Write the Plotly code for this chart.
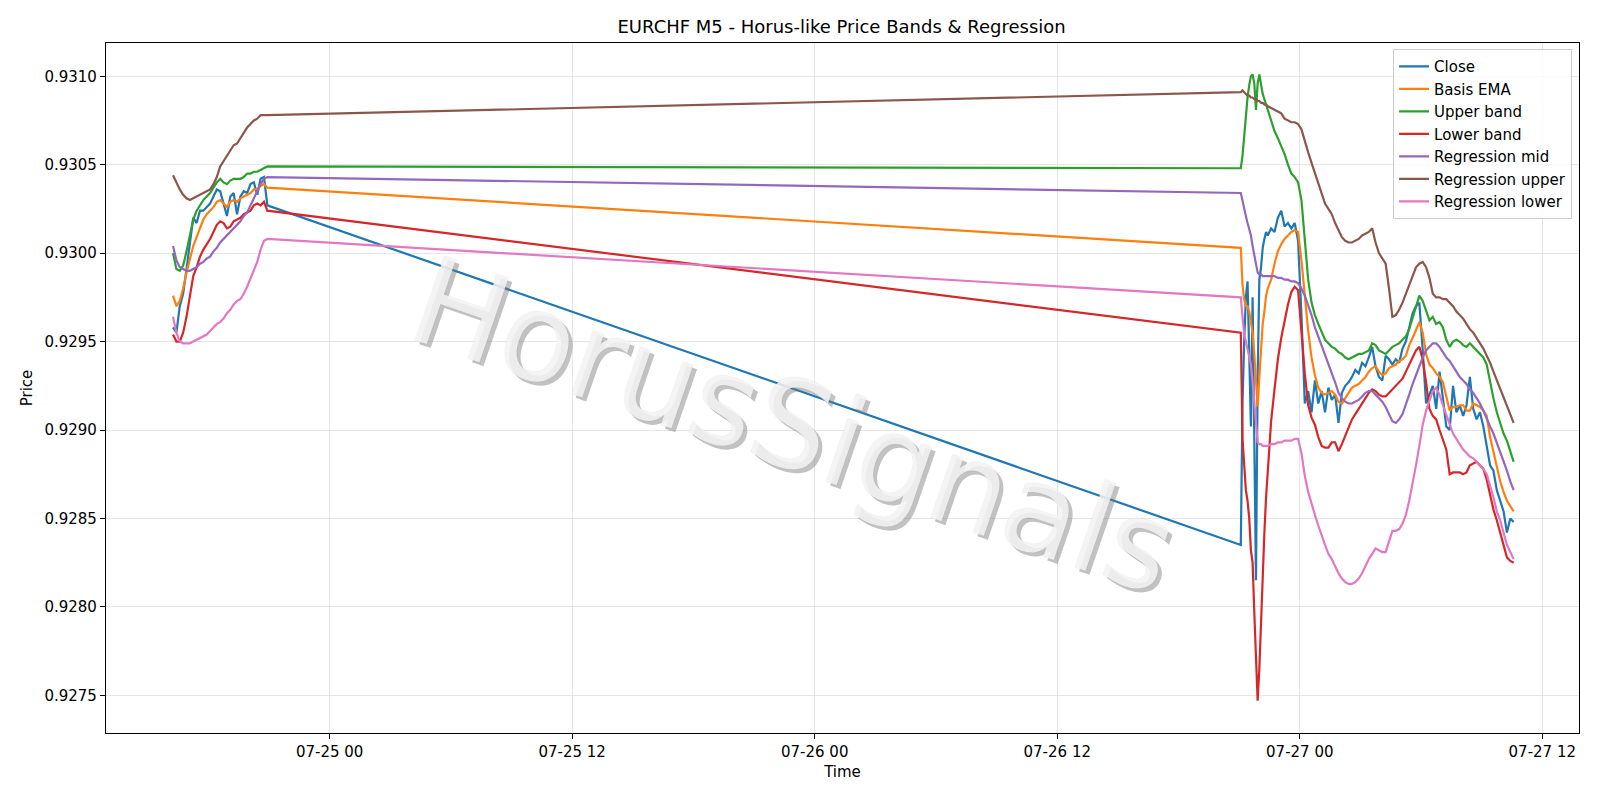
import pandas as pd
import plotly.graph_objects as go

# ---- time stamps (M5 data, sampled) ----
t_seg1 = pd.date_range("2026-07-24 16:15", "2026-07-24 20:55", freq="10min")
t_seg2a = pd.date_range("2026-07-26 21:05", "2026-07-26 22:25", freq="5min")
t_seg2b = pd.date_range("2026-07-26 22:35", "2026-07-27 10:35", freq="10min")
times = list(t_seg1) + list(t_seg2a) + list(t_seg2b)

# ---- segment 1 (Friday) ----
close_1 = [0.92958, 0.92955, 0.92970, 0.92977, 0.92991, 0.93006, 0.93020, 0.93017, 0.93024, 0.93024,
           0.93026, 0.93028, 0.93032, 0.93036, 0.93035, 0.93028, 0.93021, 0.93032, 0.93034, 0.93022,
           0.93032, 0.93035, 0.93034, 0.93039, 0.93040, 0.93033, 0.93042, 0.93043, 0.93027]
ema_1 = [0.92976, 0.92970, 0.92973, 0.92980, 0.92989, 0.92996, 0.93004, 0.93009, 0.93014, 0.93019,
         0.93022, 0.93024, 0.93026, 0.93029, 0.93030, 0.93028, 0.93026, 0.93029, 0.93030, 0.93029,
         0.93031, 0.93032, 0.93033, 0.93034, 0.93036, 0.93036, 0.93038, 0.93039, 0.93037]
upper_1 = [0.93000, 0.92991, 0.92990, 0.92993, 0.93001, 0.93010, 0.93019, 0.93024, 0.93027, 0.93030,
           0.93032, 0.93034, 0.93037, 0.93040, 0.93042, 0.93040, 0.93039, 0.93041, 0.93042, 0.93042,
           0.93042, 0.93043, 0.93045, 0.93045, 0.93046, 0.93046, 0.93047, 0.93048, 0.93049]
lower_1 = [0.92954, 0.92950, 0.92950, 0.92955, 0.92964, 0.92976, 0.92987, 0.92992, 0.92998, 0.93002,
           0.93005, 0.93008, 0.93012, 0.93016, 0.93018, 0.93017, 0.93014, 0.93015, 0.93018, 0.93019,
           0.93020, 0.93022, 0.93023, 0.93024, 0.93027, 0.93028, 0.93027, 0.93029, 0.93024]
rmid_1 = [0.93004, 0.92996, 0.92992, 0.92991, 0.92990, 0.92990, 0.92991, 0.92992, 0.92994, 0.92995,
          0.92997, 0.92998, 0.93001, 0.93003, 0.93006, 0.93008, 0.93010, 0.93012, 0.93014, 0.93016,
          0.93018, 0.93021, 0.93023, 0.93027, 0.93031, 0.93035, 0.93039, 0.93042, 0.93043]
rup_1 = [0.93044, 0.93040, 0.93036, 0.93033, 0.93031, 0.93030, 0.93031, 0.93032, 0.93033, 0.93034,
         0.93035, 0.93036, 0.93039, 0.93043, 0.93049, 0.93052, 0.93055, 0.93058, 0.93061, 0.93062,
         0.93065, 0.93068, 0.93071, 0.93073, 0.93075, 0.93076, 0.93078, 0.93078, 0.93078]
rlow_1 = [0.92964, 0.92955, 0.92950, 0.92949, 0.92949, 0.92949, 0.92950, 0.92951, 0.92952, 0.92953,
          0.92954, 0.92956, 0.92958, 0.92960, 0.92961, 0.92963, 0.92966, 0.92968, 0.92971, 0.92973,
          0.92974, 0.92977, 0.92981, 0.92986, 0.92991, 0.92995, 0.93002, 0.93007, 0.93008]

# ---- segment 2 (Sunday night -> Monday) ----
close_2 = [0.92835, 0.92915, 0.92950, 0.92975, 0.92984, 0.92950, 0.92902, 0.92975, 0.92880, 0.92815,
           0.92930, 0.92985, 0.92992, 0.93003, 0.93008, 0.93012, 0.93010,
           0.93014, 0.93012, 0.93020, 0.93024, 0.93015, 0.93017, 0.93014, 0.93017, 0.93007,
           0.92965, 0.92915, 0.92922, 0.92910, 0.92928, 0.92915,
           0.92922, 0.92910, 0.92924, 0.92917, 0.92920, 0.92904,
           0.92921, 0.92925, 0.92927, 0.92930, 0.92934, 0.92932,
           0.92938, 0.92936, 0.92941, 0.92947, 0.92936, 0.92930,
           0.92928, 0.92942, 0.92940, 0.92937, 0.92940, 0.92938,
           0.92946, 0.92950, 0.92958, 0.92966, 0.92970, 0.92972,
           0.92945, 0.92915, 0.92920, 0.92925, 0.92912, 0.92933,
           0.92918, 0.92902, 0.92900, 0.92925, 0.92910, 0.92914,
           0.92908, 0.92914, 0.92930, 0.92912, 0.92906, 0.92910,
           0.92902, 0.92892, 0.92880, 0.92877, 0.92866, 0.92860,
           0.92854, 0.92842, 0.92850, 0.92848]
ema_2 = [0.93003, 0.92982, 0.92974, 0.92970, 0.92970, 0.92967, 0.92962, 0.92955, 0.92943, 0.92928,
         0.92913, 0.92930, 0.92945, 0.92960, 0.92967, 0.92976, 0.92980,
         0.92985, 0.92994, 0.93001, 0.93005, 0.93008, 0.93010, 0.93012, 0.93013, 0.93012,
         0.92996, 0.92974, 0.92956, 0.92941, 0.92931, 0.92924,
         0.92921, 0.92920, 0.92921, 0.92922, 0.92920, 0.92916,
         0.92915, 0.92918, 0.92921, 0.92924, 0.92925, 0.92926,
         0.92928, 0.92930, 0.92933, 0.92935, 0.92936, 0.92933,
         0.92931, 0.92932, 0.92935, 0.92936, 0.92937, 0.92939,
         0.92940, 0.92942, 0.92948, 0.92952, 0.92957, 0.92961,
         0.92955, 0.92943, 0.92937, 0.92935, 0.92932, 0.92930,
         0.92927, 0.92918, 0.92911, 0.92913, 0.92913, 0.92914,
         0.92914, 0.92911, 0.92911, 0.92915, 0.92914, 0.92913,
         0.92911, 0.92908, 0.92896, 0.92887, 0.92879, 0.92871,
         0.92865, 0.92860, 0.92857, 0.92854]
upper_2 = [0.93048, 0.93055, 0.93066, 0.93079, 0.93088, 0.93095, 0.93100, 0.93101, 0.93096, 0.93081,
           0.93096, 0.93101, 0.93095, 0.93090, 0.93087, 0.93084, 0.93082,
           0.93076, 0.93069, 0.93065, 0.93061, 0.93056, 0.93050, 0.93045, 0.93043, 0.93040,
           0.93030, 0.93005, 0.92985, 0.92972, 0.92965, 0.92960,
           0.92955, 0.92951, 0.92949, 0.92947, 0.92946, 0.92944,
           0.92943, 0.92941, 0.92940, 0.92941, 0.92942, 0.92943,
           0.92943, 0.92944, 0.92945, 0.92949, 0.92948, 0.92945,
           0.92944, 0.92943, 0.92945, 0.92947, 0.92948, 0.92949,
           0.92951, 0.92953, 0.92957, 0.92963, 0.92969, 0.92976,
           0.92973, 0.92967, 0.92962, 0.92964, 0.92960, 0.92961,
           0.92958, 0.92951, 0.92947, 0.92950, 0.92951, 0.92950,
           0.92948, 0.92947, 0.92949, 0.92947, 0.92945, 0.92943,
           0.92941, 0.92937, 0.92927, 0.92918, 0.92910, 0.92904,
           0.92898, 0.92894, 0.92888, 0.92882]
lower_2 = [0.92955, 0.92895, 0.92878, 0.92866, 0.92860, 0.92850, 0.92832, 0.92825, 0.92797, 0.92768,
           0.92747, 0.92765, 0.92793, 0.92818, 0.92842, 0.92862, 0.92878,
           0.92905, 0.92923, 0.92940, 0.92952, 0.92962, 0.92971, 0.92978, 0.92981, 0.92979,
           0.92955, 0.92932, 0.92914, 0.92907, 0.92903, 0.92896,
           0.92891, 0.92890, 0.92890, 0.92893, 0.92893, 0.92888,
           0.92892, 0.92897, 0.92902, 0.92906, 0.92909, 0.92912,
           0.92915, 0.92918, 0.92921, 0.92923, 0.92922, 0.92920,
           0.92919, 0.92919, 0.92921, 0.92923, 0.92925, 0.92927,
           0.92929, 0.92933, 0.92937, 0.92941, 0.92945, 0.92947,
           0.92940, 0.92927, 0.92912, 0.92908, 0.92906, 0.92900,
           0.92895, 0.92889, 0.92875, 0.92876, 0.92876, 0.92876,
           0.92875, 0.92876, 0.92880, 0.92881, 0.92882, 0.92880,
           0.92878, 0.92872, 0.92863, 0.92855, 0.92849, 0.92842,
           0.92835, 0.92828, 0.92826, 0.92825]
rmid_2 = [0.93034, 0.93029, 0.93025, 0.93021, 0.93017, 0.93013, 0.93010, 0.93004, 0.92999, 0.92992,
          0.92989, 0.92988, 0.92988, 0.92987, 0.92987, 0.92987, 0.92987,
          0.92987, 0.92987, 0.92986, 0.92986, 0.92985, 0.92985, 0.92984, 0.92984, 0.92983,
          0.92980, 0.92976, 0.92971, 0.92965, 0.92958, 0.92953,
          0.92948, 0.92943, 0.92938, 0.92933, 0.92927, 0.92921,
          0.92918, 0.92916, 0.92915, 0.92915, 0.92916, 0.92917,
          0.92919, 0.92921, 0.92922, 0.92922, 0.92920, 0.92918,
          0.92916, 0.92913, 0.92909, 0.92905, 0.92904, 0.92906,
          0.92909, 0.92914, 0.92920, 0.92926, 0.92931, 0.92937,
          0.92941, 0.92945, 0.92947, 0.92949, 0.92949, 0.92947,
          0.92944, 0.92941, 0.92939, 0.92936, 0.92933, 0.92930,
          0.92928, 0.92926, 0.92923, 0.92921, 0.92918, 0.92915,
          0.92911, 0.92906, 0.92902, 0.92898, 0.92893, 0.92888,
          0.92882, 0.92877, 0.92871, 0.92866]
rup_2 = [0.93091, 0.93092, 0.93091, 0.93090, 0.93089, 0.93089, 0.93088, 0.93088, 0.93087, 0.93087,
         0.93086, 0.93086, 0.93085, 0.93085, 0.93084, 0.93084, 0.93083,
         0.93082, 0.93081, 0.93080, 0.93079, 0.93076, 0.93075, 0.93074, 0.93074, 0.93073,
         0.93070, 0.93063, 0.93057, 0.93051, 0.93045, 0.93039,
         0.93033, 0.93028, 0.93025, 0.93022, 0.93017, 0.93013,
         0.93009, 0.93007, 0.93006, 0.93006, 0.93007, 0.93008,
         0.93010, 0.93011, 0.93012, 0.93014, 0.93006, 0.93000,
         0.92997, 0.92994, 0.92980, 0.92964, 0.92965, 0.92968,
         0.92972, 0.92977, 0.92982, 0.92988, 0.92992, 0.92994,
         0.92995, 0.92992, 0.92986, 0.92977, 0.92975, 0.92975,
         0.92974, 0.92974, 0.92972, 0.92970, 0.92967, 0.92965,
         0.92963, 0.92960, 0.92957, 0.92955, 0.92952, 0.92949,
         0.92946, 0.92942, 0.92938, 0.92933, 0.92928, 0.92923,
         0.92919, 0.92913, 0.92908, 0.92904]
rlow_2 = [0.92975, 0.92964, 0.92954, 0.92950, 0.92946, 0.92942, 0.92937, 0.92927, 0.92915, 0.92902,
          0.92893, 0.92892, 0.92892, 0.92891, 0.92891, 0.92891, 0.92891,
          0.92892, 0.92892, 0.92893, 0.92893, 0.92894, 0.92894, 0.92894, 0.92895, 0.92895,
          0.92887, 0.92874, 0.92865, 0.92858, 0.92852, 0.92846,
          0.92840, 0.92835, 0.92830, 0.92827, 0.92823, 0.92819,
          0.92816, 0.92814, 0.92813, 0.92813, 0.92814, 0.92816,
          0.92819, 0.92823, 0.92827, 0.92830, 0.92833, 0.92832,
          0.92831, 0.92831, 0.92837, 0.92843, 0.92843, 0.92844,
          0.92847, 0.92852, 0.92860, 0.92869, 0.92880, 0.92891,
          0.92903, 0.92911, 0.92916, 0.92922, 0.92924, 0.92920,
          0.92914, 0.92909, 0.92903, 0.92898, 0.92895, 0.92892,
          0.92889, 0.92887, 0.92885, 0.92884, 0.92882, 0.92880,
          0.92878, 0.92875, 0.92869, 0.92862, 0.92854, 0.92849,
          0.92842, 0.92835, 0.92831, 0.92827]

series_names = ["Close", "Basis EMA", "Upper band", "Lower band",
                "Regression mid", "Regression upper", "Regression lower"]
series_values = [close_1 + close_2, ema_1 + ema_2, upper_1 + upper_2, lower_1 + lower_2,
                 rmid_1 + rmid_2, rup_1 + rup_2, rlow_1 + rlow_2]
colors = ["#1f77b4", "#ff7f0e", "#2ca02c", "#d62728", "#9467bd", "#8c564b", "#e377c2"]

y_ticks = [0.9275, 0.9280, 0.9285, 0.9290, 0.9295, 0.9300, 0.9305, 0.9310]
x_ticks = ["2026-07-25 00:00", "2026-07-25 12:00", "2026-07-26 00:00",
           "2026-07-26 12:00", "2026-07-27 00:00", "2026-07-27 12:00"]
x_ticktext = ["07-25 00", "07-25 12", "07-26 00", "07-26 12", "07-27 00", "07-27 12"]

FONT = "DejaVu Sans"

fig = go.Figure()
for name, vals, col in zip(series_names, series_values, colors):
    fig.add_trace(go.Scatter(x=times, y=vals, mode="lines", name=name,
                             line=dict(color=col, width=2.2)))

# watermark (shadow + light text with thin outline)
wm_x, wm_y = 0.467, 0.445
wm_size, wm_angle = 122, 19
fig.add_annotation(x=wm_x, y=wm_y, xref="paper", yref="paper", text="HorusSignals",
                   showarrow=False, textangle=wm_angle, xshift=4, yshift=-4,
                   font=dict(family=FONT, size=wm_size, color="rgba(120,120,120,0.45)"))
fig.add_annotation(x=wm_x, y=wm_y, xref="paper", yref="paper", text="HorusSignals",
                   showarrow=False, textangle=wm_angle,
                   font=dict(family=FONT, size=wm_size, color="rgba(255,255,255,0.78)",
                             shadow="0px 0px 1px rgba(130,130,130,0.5)"))

fig.update_layout(
    width=1600, height=800,
    margin=dict(l=106, r=21, t=43, b=67),
    paper_bgcolor="white", plot_bgcolor="white",
    font=dict(family=FONT, size=15, color="black"),
    title=dict(text="EURCHF M5 - Horus-like Price Bands & Regression",
               x=0.526, xanchor="center", y=0.967, yanchor="middle", yref="container",
               font=dict(family=FONT, size=18, color="black")),
    legend=dict(x=0.9953, y=0.991, xanchor="right", yanchor="top",
                bgcolor="rgba(255,255,255,0.8)", bordercolor="#cccccc", borderwidth=1,
                font=dict(family=FONT, size=15, color="black")),
    showlegend=True,
)
fig.update_xaxes(
    type="date", range=["2026-07-24 12:56", "2026-07-27 13:49"],
    tickvals=x_ticks, ticktext=x_ticktext,
    showgrid=True, gridcolor="#e6e6e6", gridwidth=1,
    showline=True, linecolor="black", linewidth=1.2, mirror=True,
    ticks="outside", ticklen=5, tickwidth=1.2, tickcolor="black",
    zeroline=False,
    title=dict(text="Time", font=dict(family=FONT, size=15), standoff=6),
)
fig.update_yaxes(
    range=[0.927287, 0.931188],
    tickvals=y_ticks, ticktext=[f"{v:.4f}" for v in y_ticks],
    showgrid=True, gridcolor="#e6e6e6", gridwidth=1,
    showline=True, linecolor="black", linewidth=1.2, mirror=True,
    ticks="outside", ticklen=5, tickwidth=1.2, tickcolor="black",
    zeroline=False,
    title=dict(text="Price", font=dict(family=FONT, size=15), standoff=8),
)

fig.write_html("out.html")
